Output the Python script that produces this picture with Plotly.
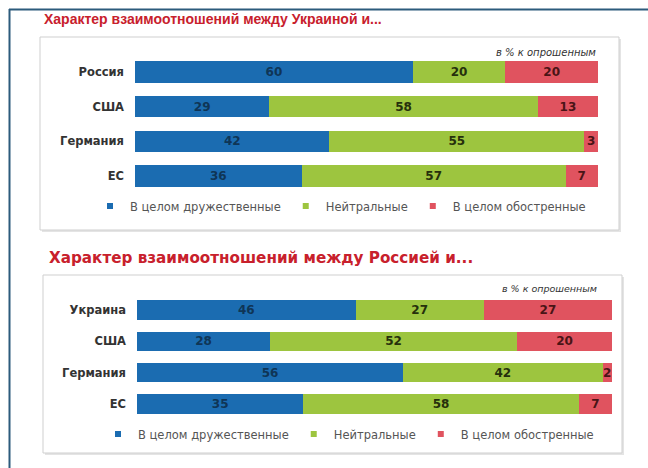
import plotly.graph_objects as go

W, H = 648, 468

# ---------------- data ----------------
series_names = ["В целом дружественные", "Нейтральные", "В целом обостренные"]

categories_ua = ["Россия", "США", "Германия", "ЕС"]
friendly_ua = [60, 29, 42, 36]
neutral_ua = [20, 58, 55, 57]
tense_ua = [20, 13, 3, 7]

categories_ru = ["Украина", "США", "Германия", "ЕС"]
friendly_ru = [46, 28, 56, 35]
neutral_ru = [27, 52, 42, 58]
tense_ru = [27, 20, 2, 7]

title_ua = "Характер взаимоотношений между Украиной и..."
title_ru = "Характер взаимоотношений между Россией и..."
note_text = "в % к опрошенным"

# ---------------- style ----------------
bar_colors = ["#1b6cb1", "#9dc53f", "#e0535f"]
text_colors = ["#0f3556", "#26300c", "#4a1416"]
FONT = "DejaVu Sans"


def px(x):
    return x / W


def py(y):
    return 1 - y / H


fig = go.Figure()

panels = [
    (categories_ua, [friendly_ua, neutral_ua, tense_ua], "x", "y", "legend"),
    (categories_ru, [friendly_ru, neutral_ru, tense_ru], "x2", "y2", "legend2"),
]

for cats, vals, xa, ya, lg in panels:
    for i, name in enumerate(series_names):
        fig.add_trace(go.Bar(
            y=cats, x=vals[i], orientation="h", name=name,
            marker=dict(color=bar_colors[i], line=dict(width=0)),
            text=vals[i], texttemplate="%{x}", textposition="inside",
            insidetextanchor="middle", constraintext="none", textangle=0,
            textfont=dict(family=FONT, size=12, color=text_colors[i], weight="bold"),
            xaxis=xa, yaxis=ya, showlegend=False, hoverinfo="skip",
        ))
    for i, name in enumerate(series_names):
        fig.add_trace(go.Scatter(
            x=[None], y=[None], mode="markers", name=name,
            marker=dict(symbol="square", size=6, color=bar_colors[i]),
            xaxis=xa, yaxis=ya, legend=lg, showlegend=True,
        ))

shapes = []
# outer frame lines (top and left)
shapes.append(dict(type="line", xref="paper", yref="paper",
                   x0=px(9), x1=px(648), y0=py(9.5), y1=py(9.5),
                   line=dict(color="#2c5b7c", width=2)))
shapes.append(dict(type="line", xref="paper", yref="paper",
                   x0=px(9.5), x1=px(9.5), y0=py(9), y1=py(468),
                   line=dict(color="#2c5b7c", width=2)))
# panel boxes with soft shadows
for (l, t, r, b) in [(40, 37, 619, 230), (43, 275, 622, 453)]:
    shapes.append(dict(type="rect", xref="paper", yref="paper", layer="below",
                       x0=px(l + 2), x1=px(r + 2), y0=py(b + 2), y1=py(t + 2),
                       fillcolor="#e4e4e4", line=dict(width=0)))
    shapes.append(dict(type="rect", xref="paper", yref="paper", layer="below",
                       x0=px(l), x1=px(r), y0=py(b), y1=py(t),
                       fillcolor="white", line=dict(color="#cfcfcf", width=1)))

annotations = [
    dict(text=title_ua, x=px(42), y=py(19), xref="paper", yref="paper",
         xanchor="left", yanchor="middle", showarrow=False,
         font=dict(family="Liberation Sans", size=14, color="#c8202c", weight="bold")),
    dict(text=title_ru, x=px(47), y=py(258), xref="paper", yref="paper",
         xanchor="left", yanchor="middle", showarrow=False,
         font=dict(family=FONT, size=15.2, color="#c8202c", weight="bold")),
    dict(text=note_text, x=px(598), y=py(52), xref="paper", yref="paper",
         xanchor="right", yanchor="middle", showarrow=False,
         font=dict(family=FONT, size=10, color="#333", style="italic")),
    dict(text=note_text, x=px(599), y=py(288), xref="paper", yref="paper",
         xanchor="right", yanchor="middle", showarrow=False,
         font=dict(family=FONT, size=9.5, color="#333", style="italic")),
]

axis_x = dict(range=[0, 100], showgrid=False, zeroline=False, showticklabels=False,
              showline=False, ticks="", fixedrange=True)
axis_y = dict(autorange="reversed", showgrid=False, zeroline=False, showline=False,
              ticks="", ticklabelstandoff=10,
              tickfont=dict(family=FONT, size=11.5, color="#333", weight="bold"))

legend_common = dict(orientation="h", xanchor="left", yanchor="middle",
                     bgcolor="rgba(0,0,0,0)", itemwidth=30, traceorder="normal",
                     font=dict(family=FONT, size=11.5, color="#555"))

fig.update_layout(
    width=W, height=H,
    margin=dict(l=0, r=0, t=0, b=0),
    paper_bgcolor="white", plot_bgcolor="rgba(0,0,0,0)",
    barmode="stack", bargap=0.39,
    xaxis=dict(axis_x, domain=[px(135), px(598)], anchor="y"),
    yaxis=dict(axis_y, domain=[py(193.4), py(54.6)], anchor="x"),
    xaxis2=dict(axis_x, domain=[px(137), px(612)], anchor="y2"),
    yaxis2=dict(axis_y, domain=[py(419.7), py(294.3)], anchor="x2"),
    legend=dict(legend_common, x=px(90), y=py(206)),
    legend2=dict(legend_common, x=px(98), y=py(434)),
    shapes=shapes,
    annotations=annotations,
)

fig.write_html(
    "out.html",
    config={"displayModeBar": False},
    post_script="document.body.style.margin='0';document.body.style.overflow='hidden';",
)
